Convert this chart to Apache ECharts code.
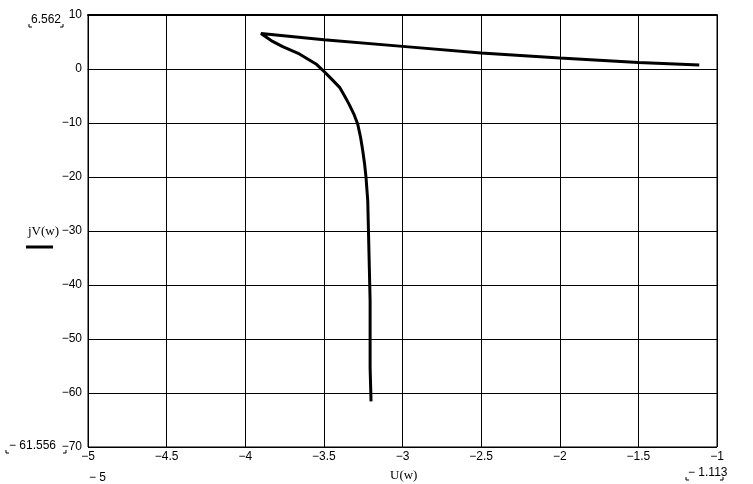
<!DOCTYPE html>
<html><head><meta charset="utf-8">
<script src="https://cdn.jsdelivr.net/npm/echarts@6/dist/echarts.min.js"></script>
<style>html,body{margin:0;padding:0;background:#fff}#c{width:753px;height:484px}</style>
</head><body><div id="c"></div>
<script>
const uValues = [-1.113, -1.5, -2.0, -2.5, -3.0, -3.5, -3.9, -3.826, -3.762, -3.656, -3.55, -3.508, -3.46, -3.40, -3.37, -3.34, -3.31, -3.285, -3.267, -3.253, -3.241, -3.232, -3.221, -3.215, -3.211, -3.206, -3.206, -3.20];
const vValues = [0.75, 1.22, 2.04, 2.96, 4.19, 5.43, 6.562, 5.11, 4.13, 2.78, 0.93, -0.19, -1.6, -3.4, -4.9, -6.5, -8.3, -10.19, -12.6, -15.1, -17.6, -20.07, -24.4, -31.8, -36.7, -42.9, -55.3, -61.556];
const xTicks = {min: -5, max: -1, interval: 0.5};
const yTicks = {min: -70, max: 10, interval: 10};
const limitLabels = {yMax: '6.562', yMin: '\u2212 61.556', xMin: '\u2212 5', xMax: '\u2212 1.113'};
const xName = 'U(w)';
const yName = 'jV(w)';

const data = uValues.map((u, i) => [u, vValues[i]]);
const fmt = v => (v < 0 ? '\u2212' : '') + Math.abs(v);
const tickFont = {fontFamily: 'Liberation Sans', fontSize: 12, color: '#000'};
const serif = 'Liberation Serif';
const mark = (x, y, dir) => ({type: 'polyline', shape: {points: [[x, y - 3], [x, y], [x + dir * 3, y]]}, style: {stroke: '#000', lineWidth: 1, fill: null}});

const chart = echarts.init(document.getElementById('c'), null, {renderer: 'canvas'});
chart.setOption({
  animation: false,
  backgroundColor: '#fff',
  grid: {left: 88, right: 36, top: 15, bottom: 37, show: true, borderColor: '#000', borderWidth: 1},
  xAxis: [{
    type: 'value', min: xTicks.min, max: xTicks.max, interval: xTicks.interval,
    axisLine: {show: true, lineStyle: {color: '#000', width: 1}},
    axisTick: {show: false},
    splitLine: {show: true, lineStyle: {color: '#000', width: 1}},
    axisLabel: Object.assign({margin: 4, formatter: fmt}, tickFont)
  }, {
    type: 'value', position: 'top', min: xTicks.min, max: xTicks.max,
    axisLine: {show: true, lineStyle: {color: '#000', width: 2}},
    axisTick: {show: false}, axisLabel: {show: false}, splitLine: {show: false}
  }],
  yAxis: {
    type: 'value', min: yTicks.min, max: yTicks.max, interval: yTicks.interval,
    axisLine: {show: true, lineStyle: {color: '#000', width: 1}},
    axisTick: {show: false},
    splitLine: {show: true, lineStyle: {color: '#000', width: 1}},
    axisLabel: Object.assign({margin: 6, formatter: fmt}, tickFont)
  },
  series: [{
    type: 'line', data: data, showSymbol: false, smooth: false,
    lineStyle: {color: '#000', width: 3}, z: 5
  }],
  graphic: [
    {type: 'text', left: 31, top: 14, style: {text: limitLabels.yMax, font: '12px Liberation Sans', fill: '#000'}},
    mark(29, 27, 1), mark(63, 27, -1),
    {type: 'text', left: 9, top: 440, style: {text: limitLabels.yMin, font: '12px Liberation Sans', fill: '#000'}},
    mark(6, 453, 1), mark(66, 453, -1),
    {type: 'text', left: 89, top: 472, style: {text: limitLabels.xMin, font: '12px Liberation Sans', fill: '#000'}},
    {type: 'text', left: 688, top: 467, style: {text: limitLabels.xMax, font: '12px Liberation Sans', fill: '#000'}},
    mark(686, 480, 1), mark(723, 480, -1),
    {type: 'text', left: 390, top: 469, style: {text: xName, font: '13px ' + serif, fill: '#000'}},
    {type: 'text', left: 28, top: 225, style: {text: yName, font: '13px ' + serif, fill: '#000'}},
    {type: 'line', shape: {x1: 26, y1: 247, x2: 53, y2: 247}, style: {stroke: '#000', lineWidth: 3}}
  ]
});
</script></body></html>
